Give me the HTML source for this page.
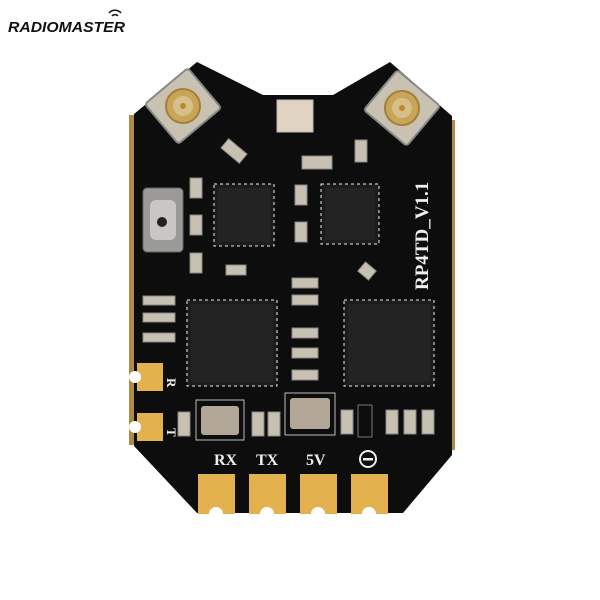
<!DOCTYPE html>
<html><head><style>
html,body{margin:0;padding:0;background:#fff;}
svg{display:block;}
</style></head><body>
<svg width="600" height="600" viewBox="0 0 600 600" xmlns="http://www.w3.org/2000/svg">
<rect width="600" height="600" fill="#fff"/>
<!-- logo -->
<text x="8" y="32" font-family="Liberation Sans, sans-serif" font-weight="bold" font-style="italic" font-size="15" textLength="117" lengthAdjust="spacingAndGlyphs" fill="#111">RADIOMASTER</text>
<g fill="none" stroke="#111" stroke-width="1.5">
<path d="M112 16 a4 4 0 0 1 6 0"/><path d="M109 13 a8 8 0 0 1 12 0"/>
</g>
<!-- gold edge castellations -->
<rect x="129" y="115" width="8" height="330" fill="#b08a45"/>
<rect x="448" y="120" width="7" height="330" fill="#b08a45"/>
<!-- board -->
<path d="M134 114 L197 62 L263 95 L333 95 L390 62 L452 116 L452 455 L403 513 L197 513 L134 446 Z" fill="#0d0d0d"/>
<!-- antenna connectors -->
<g transform="rotate(-40 183 106)">
<rect x="155" y="80" width="56" height="52" rx="3" fill="#c9c2b2" stroke="#888" stroke-width="2"/>
<circle cx="183" cy="106" r="17" fill="#c9a55a" stroke="#a47f36" stroke-width="2"/>
<circle cx="183" cy="106" r="10" fill="#d7bf8a"/>
<circle cx="183" cy="106" r="3" fill="#b8892d"/>
</g>
<g transform="rotate(40 402 108)">
<rect x="374" y="82" width="56" height="52" rx="3" fill="#c9c2b2" stroke="#888" stroke-width="2"/>
<circle cx="402" cy="108" r="17" fill="#c9a55a" stroke="#a47f36" stroke-width="2"/>
<circle cx="402" cy="108" r="10" fill="#d7bf8a"/>
<circle cx="402" cy="108" r="3" fill="#b8892d"/>
</g>
<!-- LED top -->
<rect x="277" y="100" width="36" height="32" fill="#e0d3c2" stroke="#bbb"/>
<!-- small passives -->
<g fill="#c8c0b0" stroke="#888" stroke-width="1">
<rect x="222" y="145" width="24" height="12" transform="rotate(40 234 151)"/>
<rect x="302" y="156" width="30" height="13"/>
<rect x="355" y="140" width="12" height="22"/>
<rect x="190" y="178" width="12" height="20"/><rect x="190" y="215" width="12" height="20"/><rect x="190" y="253" width="12" height="20"/>
<rect x="295" y="185" width="12" height="20"/><rect x="295" y="222" width="12" height="20"/>
<rect x="226" y="265" width="20" height="10"/>
<rect x="360" y="265" width="14" height="12" transform="rotate(40 367 271)"/>
<rect x="292" y="278" width="26" height="10"/><rect x="292" y="295" width="26" height="10"/>
<rect x="292" y="328" width="26" height="10"/><rect x="292" y="348" width="26" height="10"/><rect x="292" y="370" width="26" height="10"/>
<rect x="143" y="296" width="32" height="9"/><rect x="143" y="313" width="32" height="9"/><rect x="143" y="333" width="32" height="9"/>
<rect x="178" y="412" width="12" height="24"/><rect x="252" y="412" width="12" height="24"/><rect x="268" y="412" width="12" height="24"/>
<rect x="341" y="410" width="12" height="24"/><rect x="386" y="410" width="12" height="24"/><rect x="404" y="410" width="12" height="24"/><rect x="422" y="410" width="12" height="24"/>
</g>
<rect x="358" y="405" width="14" height="32" fill="none" stroke="#777"/>
<!-- button -->
<rect x="143" y="188" width="40" height="64" rx="4" fill="#9b9a97" stroke="#666"/>
<rect x="150" y="200" width="26" height="40" rx="6" fill="#c8c7c3"/>
<circle cx="162" cy="222" r="5" fill="#222"/>
<!-- QFN chips -->
<g fill="#1c1c1c" stroke="#eee" stroke-width="1" stroke-dasharray="3 3">
<rect x="214" y="184" width="60" height="62"/>
<rect x="321" y="184" width="58" height="60"/>
<rect x="187" y="300" width="90" height="86"/>
<rect x="344" y="300" width="90" height="86"/>
</g>
<g fill="#232323">
<rect x="218" y="188" width="52" height="54"/><rect x="325" y="188" width="50" height="52"/>
<rect x="191" y="304" width="82" height="78"/><rect x="348" y="304" width="82" height="78"/>
</g>
<!-- crystals -->
<rect x="196" y="400" width="48" height="40" fill="none" stroke="#bbb"/>
<rect x="201" y="406" width="38" height="29" rx="3" fill="#b2a796"/>
<rect x="285" y="393" width="50" height="42" fill="none" stroke="#bbb"/>
<rect x="290" y="398" width="40" height="31" rx="3" fill="#b2a796"/>
<!-- side pads -->
<rect x="137" y="363" width="26" height="28" fill="#e3b24e"/>
<rect x="137" y="413" width="26" height="28" fill="#e3b24e"/>
<circle cx="135" cy="377" r="6" fill="#fff"/><circle cx="135" cy="427" r="6" fill="#fff"/>
<g font-family="Liberation Serif, serif" font-weight="bold" fill="#eee">
<text x="172" y="383" font-size="13" transform="rotate(90 172 378)">R</text>
<text x="172" y="433" font-size="13" transform="rotate(90 172 428)">T</text>
<text x="214" y="465" font-size="16">RX</text>
<text x="256" y="465" font-size="16">TX</text>
<text x="306" y="465" font-size="16">5V</text>
<text x="428" y="290" font-size="19" transform="rotate(-90 428 290)">RP4TD_V1.1</text>
</g>
<circle cx="368" cy="459" r="8" fill="none" stroke="#eee" stroke-width="2"/>
<rect x="363" y="458" width="10" height="2.5" fill="#eee"/>
<!-- bottom pads -->
<g fill="#e3b24e">
<rect x="198" y="474" width="37" height="40"/><rect x="249" y="474" width="37" height="40"/>
<rect x="300" y="474" width="37" height="40"/><rect x="351" y="474" width="37" height="40"/>
</g>
<g fill="#fff">
<circle cx="216" cy="514" r="7"/><circle cx="267" cy="514" r="7"/><circle cx="318" cy="514" r="7"/><circle cx="369" cy="514" r="7"/>
</g>
</svg>
</body></html>
